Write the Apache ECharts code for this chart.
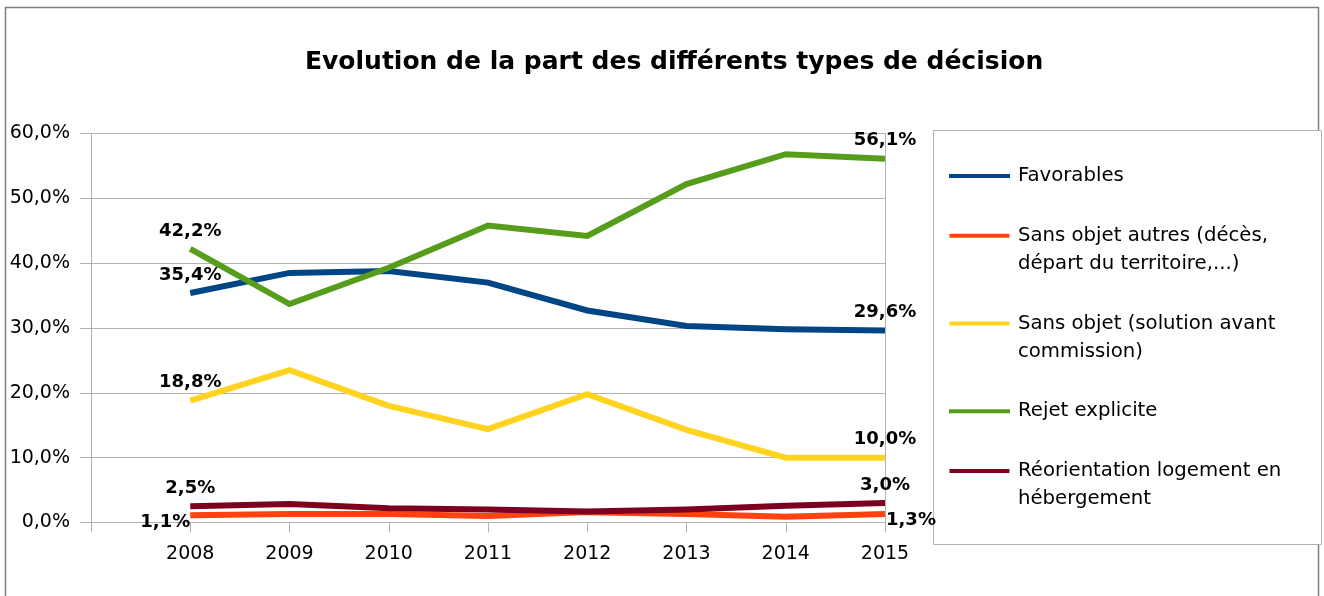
<!DOCTYPE html>
<html>
<head>
<meta charset="utf-8">
<script src="https://cdn.jsdelivr.net/npm/echarts@6/dist/echarts.min.js"></script>
<style>
html,body{margin:0;padding:0;background:#fff;}
#chart{width:1324px;height:596px;}
</style>
</head>
<body>
<div id="chart"></div>
<script>
// ---- data ----
const years = [2008, 2009, 2010, 2011, 2012, 2013, 2014, 2015];
const seriesNames = [
  'Favorables',
  'Sans objet autres (décès, départ du territoire,...)',
  'Sans objet (solution avant commission)',
  'Rejet explicite',
  'Réorientation logement en hébergement'
];
const legendLabels = [
  'Favorables',
  'Sans objet autres (décès,\ndépart du territoire,...)',
  'Sans objet (solution avant\ncommission)',
  'Rejet explicite',
  'Réorientation logement en\nhébergement'
];
const favorables      = [35.4, 38.5, 38.8, 37.0, 32.7, 30.3, 29.8, 29.6];
const sansObjetAutres = [1.1, 1.3, 1.3, 1.0, 1.6, 1.3, 0.9, 1.3];
const sansObjetSol    = [18.8, 23.5, 18.0, 14.4, 19.8, 14.3, 10.0, 10.0];
const rejet           = [42.2, 33.7, 39.3, 45.8, 44.2, 52.2, 56.8, 56.1];
const reorientation   = [2.5, 2.85, 2.2, 2.0, 1.7, 2.0, 2.6, 3.0];
const yTicks = [0, 10, 20, 30, 40, 50, 60];

const colors = ['#004586', '#ff420e', '#ffd320', '#579d1c', '#7e0021'];
const values = [favorables, sansObjetAutres, sansObjetSol, rejet, reorientation];

const fmtPct = v => v.toFixed(1).replace('.', ',') + '%';
const font = 'DejaVu Sans';

const topLabel = {show: true, position: 'top', distance: 9};
const labelCfgs = [
  [topLabel, topLabel],
  [{show: true, position: 'left', distance: 0, offset: [0, 7]}, {show: true, position: 'right', distance: 1, offset: [0, 6]}],
  [topLabel, topLabel],
  [topLabel, topLabel],
  [topLabel, topLabel]
];

const series = values.map((vals, s) => ({
  name: seriesNames[s],
  type: 'line',
  symbol: 'circle',
  symbolSize: 0,
  showSymbol: true,
  lineStyle: {width: 6, color: colors[s], cap: 'butt', join: 'miter'},
  itemStyle: {color: colors[s]},
  emphasis: {disabled: true},
  label: {
    show: false,
    fontFamily: font, fontWeight: 'bold', fontSize: 18, color: '#000',
    formatter: p => fmtPct(p.value[1])
  },
  data: vals.map((v, i) => {
    const d = {value: [years[i], v]};
    if (i === 0) d.label = labelCfgs[s][0];
    if (i === vals.length - 1) d.label = labelCfgs[s][1];
    return d;
  })
}));

const iconSingle = 'path://M0,0H60V4H0Z';
const iconDouble = 'path://M0,0H60V4H0Z M0,31.99H0.01V32H0Z';

const chart = echarts.init(document.getElementById('chart'), null, {renderer: 'canvas'});
chart.setOption({
  animation: false,
  color: colors,
  title: {
    text: 'Evolution de la part des différents types de décision',
    left: 305, top: 50,
    padding: 0,
    textStyle: {fontFamily: font, fontWeight: 'bold', fontSize: 25, color: '#000'}
  },
  graphic: [
    {type: 'rect', shape: {x: 5.5, y: 7.5, width: 1313, height: 620}, style: {fill: 'none', stroke: '#7f7f7f', lineWidth: 1.5}, z: -10, silent: true},
    {type: 'rect', shape: {x: 933.5, y: 130.5, width: 388, height: 414}, style: {fill: '#fff', stroke: '#b3b3b3', lineWidth: 1}, z: -5, silent: true}
  ],
  legend: {
    orient: 'vertical',
    left: 949, top: 162,
    padding: 0,
    itemWidth: 61, itemHeight: 32, itemGap: 31.75,
    selectedMode: false,
    itemStyle: {borderWidth: 0},
    textStyle: {fontFamily: font, fontSize: 19.7, lineHeight: 28, color: '#000', padding: [0, 0, 0, 3]},
    formatter: name => legendLabels[seriesNames.indexOf(name)],
    data: seriesNames.map((n, i) => ({name: n, icon: legendLabels[i].indexOf('\n') >= 0 ? iconDouble : iconSingle}))
  },
  grid: {left: 91, right: 439, top: 133.5, bottom: 73.5, containLabel: false},
  xAxis: {
    type: 'value',
    min: years[0] - 1, max: years[years.length - 1], interval: 1,
    axisLine: {show: true, lineStyle: {color: '#b3b3b3', width: 1}},
    axisTick: {show: true, length: 10, lineStyle: {color: '#b3b3b3'}},
    splitLine: {show: false},
    axisLabel: {
      fontFamily: font, fontSize: 19, color: '#000', margin: 22,
      formatter: v => (years.indexOf(v) >= 0 ? String(v) : '')
    }
  },
  yAxis: [{
    type: 'value',
    min: yTicks[0], max: yTicks[yTicks.length - 1], interval: 10,
    axisLine: {show: true, lineStyle: {color: '#b3b3b3', width: 1}},
    axisTick: {show: true, length: 11, lineStyle: {color: '#b3b3b3'}},
    splitLine: {show: true, lineStyle: {color: '#b3b3b3', width: 1}},
    axisLabel: {fontFamily: font, fontSize: 19, color: '#000', margin: 21, formatter: v => fmtPct(v)}
  }, {
    type: 'value', position: 'right',
    min: yTicks[0], max: yTicks[yTicks.length - 1], interval: 10,
    axisLine: {show: true, lineStyle: {color: '#b3b3b3', width: 1}},
    axisTick: {show: false}, axisLabel: {show: false}, splitLine: {show: false}
  }],
  series: series
});
</script>
</body>
</html>
